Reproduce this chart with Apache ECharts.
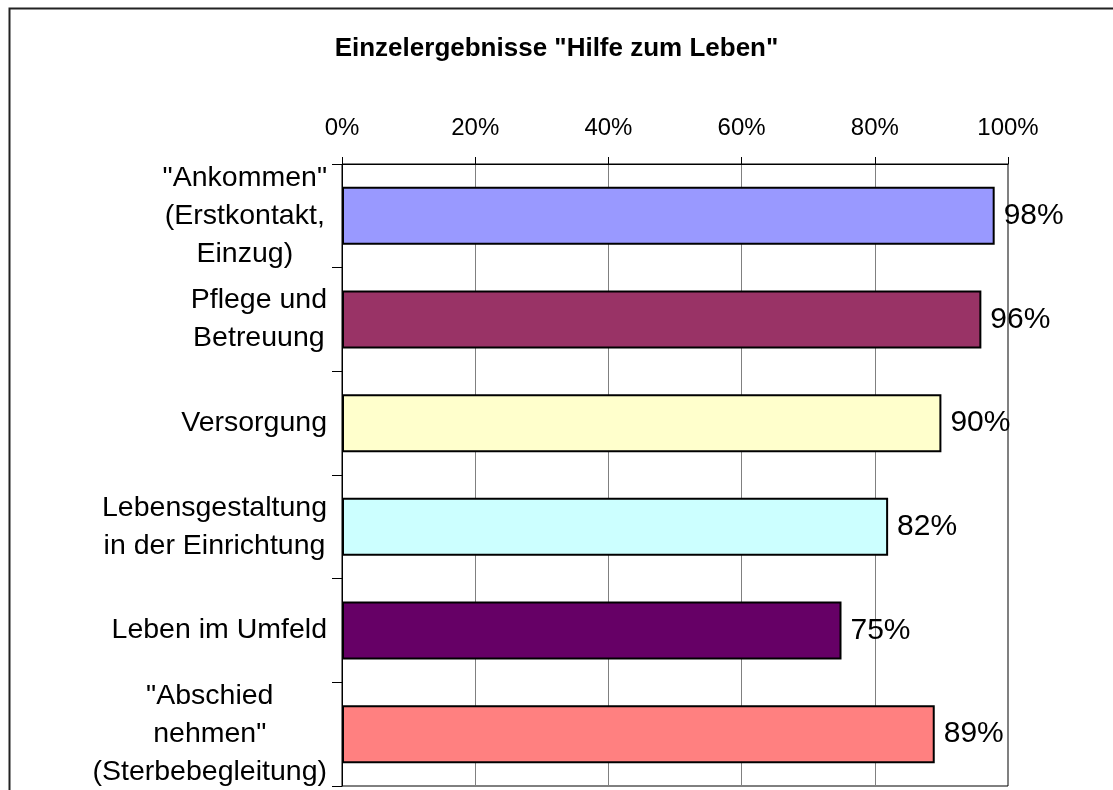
<!DOCTYPE html>
<html>
<head>
<meta charset="utf-8">
<script src="https://cdn.jsdelivr.net/npm/echarts@6/dist/echarts.min.js"></script>
<style>
  html, body { margin: 0; padding: 0; background: #fff; }
  #mainChart { width: 1113px; height: 790px; }
</style>
</head>
<body>
<div id="mainChart"></div>
<script>
// Werte aus dem Diagramm
const categories = [
    '"Ankommen"\n(Erstkontakt,\nEinzug)',
    'Pflege und\nBetreuung',
    'Versorgung',
    'Lebensgestaltung\nin der Einrichtung',
    'Leben im Umfeld',
    '"Abschied\nnehmen"\n(Sterbebegleitung)'
];
const values = [98, 96, 90, 82, 75, 89];
const barColors = ['#9999FF', '#993366', '#FFFFCC', '#CCFFFF', '#660066', '#FF8080'];
const tickLabels = ['0%', '20%', '40%', '60%', '80%', '100%'];

const FONT = '"Liberation Sans", Arial, sans-serif';

const chart = echarts.init(document.getElementById('mainChart'));

chart.setOption({
    animation: false,
    backgroundColor: '#fff',
    title: {
        text: 'Einzelergebnisse "Hilfe zum Leben"',
        left: 'center',
        top: 31,
        textStyle: { fontFamily: FONT, fontSize: 26, fontWeight: 'bold', color: '#000' }
    },
    // Rahmen um das ganze Diagramm
    graphic: [{
        type: 'rect',
        left: 7, top: 6,
        shape: { width: 1300, height: 1000 },
        style: { fill: 'none', stroke: '#222', lineWidth: 2 },
        silent: true
    }],
    grid: {
        left: 342, top: 164, right: 105, bottom: 4,
        show: true, borderColor: '#000', borderWidth: 1,
        containLabel: false
    },
    xAxis: {
        type: 'value',
        position: 'top',
        min: 0, max: 100, interval: 20,
        axisLine: { show: true, lineStyle: { color: '#000', width: 1 } },
        axisTick: { show: true, length: 7, lineStyle: { color: '#000' } },
        splitLine: { show: true, lineStyle: { color: '#808080', width: 1 } },
        axisLabel: {
            margin: 24,
            fontFamily: FONT, fontSize: 24, color: '#000',
            formatter: (v) => tickLabels[Math.round(v / 20)]
        }
    },
    yAxis: {
        type: 'category',
        inverse: true,
        data: categories,
        axisLine: { show: true, lineStyle: { color: '#000', width: 1 } },
        axisTick: { show: true, length: 10, lineStyle: { color: '#000' } },
        axisLabel: {
            margin: 15,
            formatter: (v) => v.split('\n').map(s => '{c|' + s + '}').join('\n'),
            rich: {
                c: { fontFamily: FONT, fontSize: 28.5, lineHeight: 38, align: 'center', color: '#000' }
            }
        }
    },
    series: [{
        type: 'bar',
        data: values.map((v, i) => ({ value: v, itemStyle: { color: barColors[i] } })),
        barWidth: 58,
        itemStyle: { borderColor: '#000', borderWidth: 2 },
        label: {
            show: true,
            position: 'right',
            distance: 9,
            fontFamily: FONT, fontSize: 30, color: '#000',
            formatter: (p) => p.value + '%'
        }
    }]
});
</script>
</body>
</html>
